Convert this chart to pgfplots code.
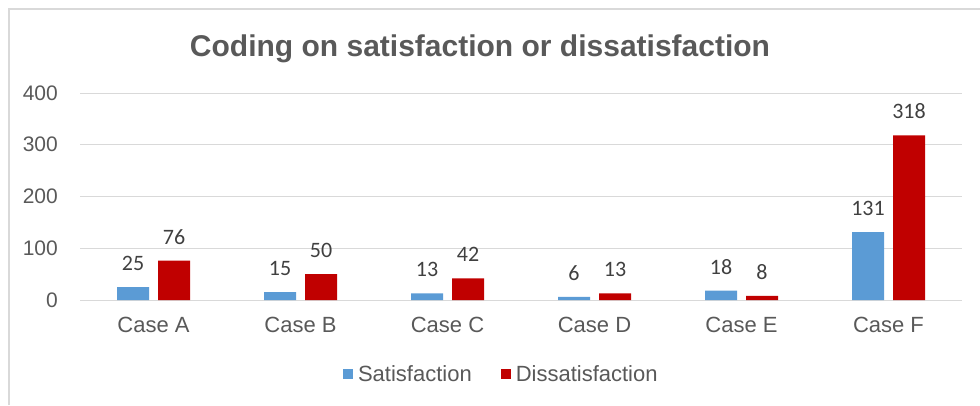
\documentclass[border=0pt]{standalone}
\usepackage{fontspec}
\setmainfont{Liberation Sans}
\newfontfamily\labelfont{Carlito}
\usepackage{pgfplots}
\pgfplotsset{compat=1.18}

\definecolor{satblue}{HTML}{5B9BD5}
\definecolor{dissred}{HTML}{C00000}
\definecolor{txtgray}{HTML}{595959}
\definecolor{lblgray}{HTML}{404040}
\definecolor{gridgray}{HTML}{D9D9D9}

\begin{document}
\begin{tikzpicture}
\path[use as bounding box] (0pt,0pt) rectangle (980pt,405pt);
% chart frame
\draw[gridgray, line width=1.2pt] (9pt,0pt) -- (9pt,396pt) -- (980pt,396pt);
% title
\node[anchor=base, text=txtgray, font=\fontsize{30}{33}\selectfont\bfseries, inner sep=0pt]
  at (480pt,348pt) {Coding on satisfaction or dissatisfaction};

\begin{axis}[
  at={(80pt,105pt)}, anchor=south west,
  scale only axis, width=882pt, height=207pt,
  ybar=9pt, bar width=32pt,
  xmin=-0.5, xmax=5.5, ymin=0, ymax=400,
  xtick=data,
  xticklabels={Case A,Case B,Case C,Case D,Case E,Case F},
  ytick={0,100,200,300,400},
  axis line style={draw=none},
  major tick length=0pt,
  ymajorgrids, grid style={gridgray, line width=1pt},
  xticklabel style={anchor=north, inner sep=0pt, yshift=-17pt,
    text=txtgray, font=\fontsize{22}{24}\selectfont},
  yticklabel style={anchor=east, inner sep=0pt, xshift=-22pt,
    text=txtgray, font=\fontsize{21}{24}\selectfont},
  /pgf/number format/assume math mode=true,
  nodes near coords,
  every node near coord/.append style={anchor=base, inner sep=0pt, yshift=16.5pt,
    text=lblgray, font=\labelfont\fontsize{22}{24}\selectfont},
  legend columns=2,
  legend style={at={(0.298,-0.3575)}, anchor=west, draw=none, inner sep=0pt,
    font=\fontsize{22}{24}\selectfont, text=txtgray,
    nodes={inner sep=0pt},
    /tikz/every odd column/.append style={column sep=5pt},
    /tikz/every even column/.append style={column sep=29pt}},
  legend image code/.code={\fill[#1] (0pt,-5pt) rectangle (10pt,5pt);},
]
\addplot[fill=satblue, draw=none] coordinates {(0,25) (1,15) (2,13) (3,6) (4,18) (5,131)};
\addplot[fill=dissred, draw=none] coordinates {(0,76) (1,50) (2,42) (3,13) (4,8) (5,318)};
\legend{Satisfaction, Dissatisfaction}
\end{axis}
\end{tikzpicture}
\end{document}
